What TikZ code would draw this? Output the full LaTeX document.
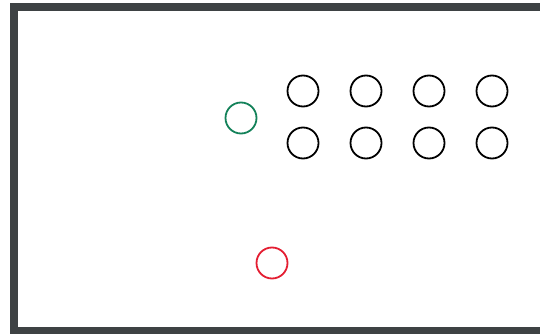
\documentclass[tikz,border=0pt]{standalone}
\definecolor{frame}{RGB}{62,66,68}
\definecolor{dotgreen}{RGB}{20,130,90}
\definecolor{dotred}{RGB}{228,30,50}
\begin{document}
\begin{tikzpicture}[x=1pt,y=-1pt,
  dot/.style={circle,draw=black,line width=1.8pt,minimum size=31pt,inner sep=0pt}]
\useasboundingbox (0,0) rectangle (540,334);
\fill[white] (0,0) rectangle (540,334);
% frame
\fill[frame] (10,3) rectangle (540,11);
\fill[frame] (10,3) rectangle (17.5,334);
\fill[frame] (10,326.5) rectangle (540,334);
% circles
\node[dot,draw=dotgreen] (g) at (241,118) {};
\node[dot,draw=dotred] (r) at (272,263) {};
\foreach \c/\x in {1/303,2/366,3/429,4/492}{
  \node[dot] (a\c) at (\x,91) {};
  \node[dot] (b\c) at (\x,143) {};
}
\end{tikzpicture}
\end{document}
